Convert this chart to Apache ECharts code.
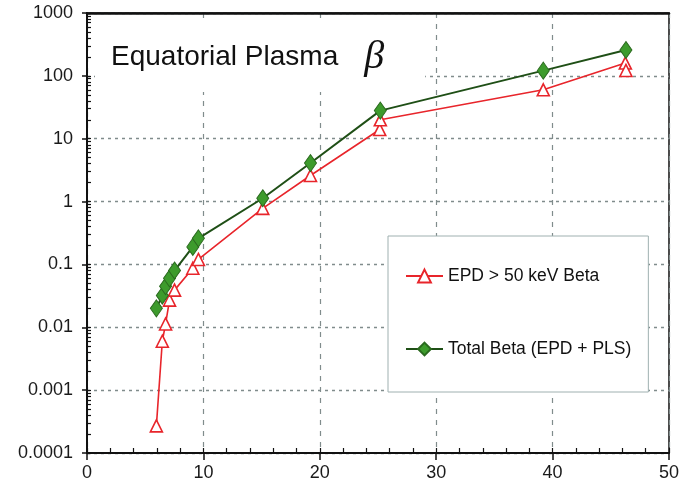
<!DOCTYPE html>
<html>
<head>
<meta charset="utf-8">
<script src="https://cdn.jsdelivr.net/npm/echarts@6/dist/echarts.min.js"></script>
<style>html,body{margin:0;padding:0;background:#fff}#c{width:682px;height:486px}</style>
</head>
<body>
<div id="c"></div>
<script>
// ---- data ----
const epdX = [5.96, 6.47, 6.75, 7.09, 7.52, 9.09, 9.57, 15.1, 19.2, 25.15, 25.2, 39.2, 46.25, 46.3];
const epdY = [0.00027, 0.006, 0.0113, 0.027, 0.039, 0.087, 0.12, 0.78, 2.6, 14, 20, 60, 160, 122];
const totX = [5.96, 6.47, 6.75, 7.09, 7.52, 9.09, 9.57, 15.1, 19.2, 25.2, 39.2, 46.3];
const totY = [0.02, 0.032, 0.045, 0.06, 0.08, 0.19, 0.26, 1.13, 4.1, 28, 121, 258];
const seriesNames = ['EPD > 50 keV Beta', 'Total Beta (EPD + PLS)'];
const yTickLabels = ['0.0001', '0.001', '0.01', '0.1', '1', '10', '100', '1000'];
const xTickLabels = ['0', '10', '20', '30', '40', '50'];
const titleMain = 'Equatorial Plasma';
const titleSym = 'β';

const yMin = 0.0001, yMax = 1000;
const minorY = [];
for (let e = -4; e < 3; e++) {
  for (let m = 1; m <= 9; m++) minorY.push(+(m * Math.pow(10, e)).toPrecision(3));
}
minorY.push(1000);

const font = "'Liberation Sans', Arial, Helvetica, sans-serif";
const chart = echarts.init(document.getElementById('c'), null, {renderer: 'canvas'});
chart.setOption({
  animation: false,
  backgroundColor: '#fff',
  title: {
    text: '{a|' + titleMain + '}{b|' + titleSym + '}',
    left: 95, top: 22,
    padding: [17, 41, 15, 16],
    backgroundColor: '#fff',
    textStyle: {
      fontWeight: 'normal',
      rich: {
        a: {fontSize: 28, fontWeight: 'normal', fontFamily: font, color: '#111', lineHeight: 36},
        b: {fontSize: 40, fontWeight: 'normal', fontFamily: "'Liberation Serif', 'DejaVu Serif', serif", fontStyle: 'italic', color: '#111', padding: [0, 0, 0, 26], lineHeight: 36}
      }
    }
  },
  legend: {
    orient: 'vertical',
    left: 388, top: 236,
    padding: [31, 17, 34, 17],
    itemGap: 55,
    itemWidth: 37, itemHeight: 16,
    backgroundColor: '#fff',
    borderColor: '#9fb0b0', borderWidth: 1,
    textStyle: {fontSize: 17.5, color: '#111', fontFamily: font},
    data: seriesNames
  },
  grid: {left: 87, right: 10, top: 13, bottom: 33, show: true, borderColor: '#111', borderWidth: 1.5, containLabel: false},
  xAxis: [
    {
      type: 'value', min: 0, max: 50, interval: 10, position: 'bottom',
      axisLine: {show: true, onZero: false, lineStyle: {color: '#111', width: 2}},
      axisTick: {show: true, inside: false, length: 7, lineStyle: {color: '#111', width: 1.5}},
      axisLabel: {fontSize: 18, color: '#1a1a1a', fontFamily: font, margin: 11,
        formatter: v => xTickLabels[Math.round(v / 10)]},
      splitLine: {show: true, lineStyle: {color: '#808c8c', type: [5, 6], width: 1.2}}
    },
    {
      type: 'value', min: 0, max: 50, interval: 2, position: 'bottom',
      axisLine: {show: false}, axisLabel: {show: false}, splitLine: {show: false},
      axisTick: {show: true, inside: true, length: 5, lineStyle: {color: '#111', width: 1.2}}
    },
    {
      type: 'value', min: 0, max: 50, position: 'top',
      axisLine: {show: true, onZero: false, lineStyle: {color: '#111', width: 2.5}},
      axisTick: {show: false}, axisLabel: {show: false}, splitLine: {show: false}
    }
  ],
  yAxis: [
    {
      type: 'log', logBase: 10, min: yMin, max: yMax,
      axisLine: {show: true, onZero: false, lineStyle: {color: '#111', width: 2}},
      axisTick: {show: true, inside: false, length: 5, lineStyle: {color: '#111', width: 1.5}},
      axisLabel: {fontSize: 18, color: '#1a1a1a', fontFamily: font, margin: 14,
        formatter: v => yTickLabels[Math.round(Math.log10(v)) + 4]},
      splitLine: {show: true, lineStyle: {color: '#808c8c', type: [3, 4], width: 1.3}}
    },
    {
      type: 'log', logBase: 10, min: yMin, max: yMax, position: 'left',
      axisLine: {show: false}, axisLabel: {show: false}, splitLine: {show: false},
      axisTick: {show: true, inside: true, length: 4, customValues: minorY, lineStyle: {color: '#111', width: 1.2}}
    }
  ],
  series: [
    {
      name: seriesNames[0], type: 'line', xAxisIndex: 0, yAxisIndex: 0,
      data: epdX.map((x, i) => [x, epdY[i]]),
      symbol: 'triangle', symbolSize: [12, 12],
      lineStyle: {color: '#e8252b', width: 1.6},
      itemStyle: {color: '#fff', borderColor: '#e8252b', borderWidth: 1.6},
      z: 3
    },
    {
      name: seriesNames[1], type: 'line', xAxisIndex: 0, yAxisIndex: 0,
      data: totX.map((x, i) => [x, totY[i]]),
      symbol: 'diamond', symbolSize: [12, 17],
      lineStyle: {color: '#1f4f16', width: 2},
      itemStyle: {color: '#3d9b2c', borderColor: '#2b6a1f', borderWidth: 1},
      z: 4
    }
  ]
});
</script>
</body>
</html>
